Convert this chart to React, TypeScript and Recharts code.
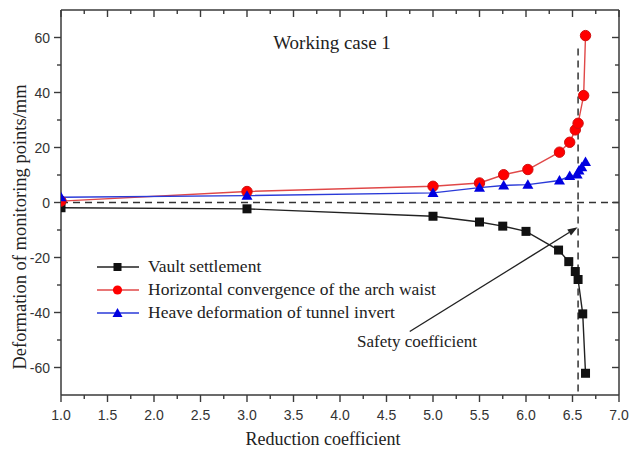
import React from "react";
import {
  LineChart,
  Line,
  XAxis,
  YAxis,
  ReferenceLine,
} from "recharts";

// reduction coefficient vs deformation (mm)
const vaultX = [1.0, 3.0, 5.0, 5.5, 5.75, 6.0, 6.35, 6.46, 6.53, 6.56, 6.61, 6.64];
const vaultY = [-1.9, -2.3, -5.0, -7.1, -8.6, -10.5, -17.3, -21.5, -25.1, -28.0, -40.5, -62.1];

const archX = [1.0, 3.0, 5.0, 5.5, 5.76, 6.02, 6.36, 6.47, 6.53, 6.56, 6.62, 6.64];
const archY = [0.5, 4.0, 5.9, 7.1, 10.1, 12.0, 18.3, 21.9, 26.4, 28.8, 38.9, 60.7];

const heaveX = [1.0, 3.0, 5.0, 5.5, 5.76, 6.02, 6.36, 6.47, 6.55, 6.57, 6.6, 6.64];
const heaveY = [1.9, 2.5, 3.5, 5.4, 6.2, 6.5, 8.0, 9.6, 10.2, 11.6, 12.8, 14.7];

const xTicks = [1, 1.25, 1.5, 1.75, 2, 2.25, 2.5, 2.75, 3, 3.25, 3.5, 3.75, 4, 4.25, 4.5, 4.75, 5, 5.25, 5.5, 5.75, 6, 6.25, 6.5, 6.75, 7];
const yTicks = [-60, -50, -40, -30, -20, -10, 0, 10, 20, 30, 40, 50, 60];

const safetyX = 6.56;
const arrowFrom = { x: 4.75, y: -46.9 };
const arrowTo = { x: 6.555, y: -9.0 };

const legendItems = [
  { name: "Vault settlement", color: "#111", line: "#222", shape: "square" },
  { name: "Horizontal convergence of the arch waist", color: "#f00", line: "#e04848", shape: "circle" },
  { name: "Heave deformation of tunnel invert", color: "#0000e0", line: "#2a3ad8", shape: "triangle" },
];

const toPoints = (xs: number[], ys: number[]) => xs.map((x, i) => ({ x, y: ys[i] }));

const vaultData = toPoints(vaultX, vaultY);
const archData = toPoints(archX, archY);
const heaveData = toPoints(heaveX, heaveY);

const AXIS = "#3a3a3a";
const serif = "'Liberation Serif', 'Times New Roman', serif";
const sans = "'Liberation Sans', Arial, sans-serif";

const isMajorX = (v: number) => Math.abs(v * 2 - Math.round(v * 2)) < 1e-6;
const isMajorY = (v: number) => v % 20 === 0;

const BottomTick = (props: any) => {
  const { x, y, payload } = props;
  const major = isMajorX(payload.value);
  return (
    <g>
      <line x1={x} x2={x} y1={y} y2={y + (major ? 7 : 4)} stroke={AXIS} strokeWidth={1.4} />
      {major && (
        <text x={x} y={y + 25} textAnchor="middle" fontSize={14} fontFamily={sans} fill="#333">
          {payload.value.toFixed(1)}
        </text>
      )}
    </g>
  );
};

const TopTick = (props: any) => {
  const { x, y, payload } = props;
  const major = isMajorX(payload.value);
  return <line x1={x} x2={x} y1={y} y2={y + (major ? 7 : 4)} stroke={AXIS} strokeWidth={1.4} />;
};

const LeftTick = (props: any) => {
  const { x, y, payload } = props;
  const major = isMajorY(payload.value);
  return (
    <g>
      <line x1={x} x2={x - (major ? 7 : 4)} y1={y} y2={y} stroke={AXIS} strokeWidth={1.4} />
      {major && (
        <text x={x - 11} y={y + 5} textAnchor="end" fontSize={14} fontFamily={sans} fill="#333">
          {payload.value}
        </text>
      )}
    </g>
  );
};

const RightTick = (props: any) => {
  const { x, y, payload } = props;
  const major = isMajorY(payload.value);
  return <line x1={x} x2={x - (major ? 7 : 4)} y1={y} y2={y} stroke={AXIS} strokeWidth={1.4} />;
};

const SquareDot = (props: any) => {
  const { cx, cy } = props;
  if (cx == null || cy == null) return null;
  return <rect x={cx - 4.5} y={cy - 4.5} width={9} height={9} fill="#111" />;
};

const CircleDot = (props: any) => {
  const { cx, cy } = props;
  if (cx == null || cy == null) return null;
  return <circle cx={cx} cy={cy} r={5.2} fill="#f00" stroke="#d01010" strokeWidth={1} />;
};

const TriangleDot = (props: any) => {
  const { cx, cy } = props;
  if (cx == null || cy == null) return null;
  return (
    <polygon
      points={`${cx},${cy - 5.5} ${cx - 5.5},${cy + 4} ${cx + 5.5},${cy + 4}`}
      fill="#0000e0"
    />
  );
};

const ArrowShape = (props: any) => {
  const { x1, y1, x2, y2 } = props;
  if (x1 == null) return null;
  const ang = Math.atan2(y2 - y1, x2 - x1);
  const len = 10;
  const w = 3.5;
  const bx = x2 - len * Math.cos(ang);
  const by = y2 - len * Math.sin(ang);
  const px = -Math.sin(ang) * w;
  const py = Math.cos(ang) * w;
  return (
    <g>
      <line x1={x1} y1={y1} x2={bx} y2={by} stroke="#222" strokeWidth={1.4} />
      <polygon points={`${x2},${y2} ${bx + px},${by + py} ${bx - px},${by - py}`} fill="#222" />
    </g>
  );
};

const LegendIcon = ({ item }: { item: (typeof legendItems)[number] }) => (
  <svg width={44} height={14} style={{ marginRight: 8 }}>
    <line x1={1} x2={43} y1={7} y2={7} stroke={item.line} strokeWidth={1.6} />
    {item.shape === "square" && <rect x={17.5} y={3} width={8} height={8} fill={item.color} />}
    {item.shape === "circle" && <circle cx={21.5} cy={7} r={4.6} fill={item.color} />}
    {item.shape === "triangle" && <polygon points="21.5,2 16.5,11 26.5,11" fill={item.color} />}
  </svg>
);

export default function App() {
  return (
    <div style={{ position: "absolute", left: 0, top: 0, width: 630, height: 452, background: "#fff" }}>
      <LineChart
        width={630}
        height={452}
        margin={{ top: 9, right: 10, bottom: 27, left: 16 }}
      >
        <XAxis
          xAxisId="bottom"
          type="number"
          dataKey="x"
          domain={[1, 7]}
          ticks={xTicks}
          interval={0}
          height={30}
          tickSize={0}
          tickMargin={0}
          tickLine={false}
          tick={<BottomTick />}
          axisLine={{ stroke: AXIS, strokeWidth: 1.5 }}
          allowDataOverflow
        />
        <XAxis
          xAxisId="top"
          orientation="top"
          type="number"
          dataKey="x"
          domain={[1, 7]}
          ticks={xTicks}
          interval={0}
          height={1}
          tickSize={0}
          tickMargin={0}
          tickLine={false}
          tick={<TopTick />}
          axisLine={{ stroke: AXIS, strokeWidth: 1.5 }}
          allowDataOverflow
        />
        <YAxis
          yAxisId="left"
          type="number"
          domain={[-70, 70]}
          ticks={yTicks}
          interval={0}
          width={45}
          tickSize={0}
          tickMargin={0}
          tickLine={false}
          tick={<LeftTick />}
          axisLine={{ stroke: AXIS, strokeWidth: 1.5 }}
          allowDataOverflow
        />
        <YAxis
          yAxisId="right"
          orientation="right"
          type="number"
          domain={[-70, 70]}
          ticks={yTicks}
          interval={0}
          width={1}
          tickSize={0}
          tickMargin={0}
          tickLine={false}
          tick={<RightTick />}
          axisLine={{ stroke: AXIS, strokeWidth: 1.5 }}
          allowDataOverflow
        />

        <ReferenceLine
          xAxisId="bottom"
          yAxisId="left"
          y={0}
          stroke="#333"
          strokeWidth={1.5}
          strokeDasharray="7 5"
        />
        <ReferenceLine
          xAxisId="bottom"
          yAxisId="left"
          segment={[
            { x: safetyX, y: 56 },
            { x: safetyX, y: -70 },
          ]}
          stroke="#333"
          strokeWidth={1.5}
          strokeDasharray="7 5"
        />
        <ReferenceLine
          xAxisId="bottom"
          yAxisId="left"
          segment={[arrowFrom, arrowTo]}
          shape={<ArrowShape />}
        />

        <Line
          xAxisId="bottom"
          yAxisId="left"
          data={vaultData}
          dataKey="y"
          stroke="#222"
          strokeWidth={1.4}
          dot={<SquareDot />}
          activeDot={false}
          isAnimationActive={false}
        />
        <Line
          xAxisId="bottom"
          yAxisId="left"
          data={archData}
          dataKey="y"
          stroke="#e04848"
          strokeWidth={1.4}
          dot={<CircleDot />}
          activeDot={false}
          isAnimationActive={false}
        />
        <Line
          xAxisId="bottom"
          yAxisId="left"
          data={heaveData}
          dataKey="y"
          stroke="#2a3ad8"
          strokeWidth={1.4}
          dot={<TriangleDot />}
          activeDot={false}
          isAnimationActive={false}
        />
      </LineChart>

      {/* texts */}
      <div
        style={{
          position: "absolute",
          left: 332,
          top: 43,
          transform: "translate(-50%, -50%)",
          fontFamily: serif,
          fontSize: 19,
          color: "#222",
          whiteSpace: "nowrap",
        }}
      >
        Working case 1
      </div>
      <div
        style={{
          position: "absolute",
          left: 417,
          top: 342,
          transform: "translate(-50%, -50%)",
          fontFamily: serif,
          fontSize: 17,
          color: "#222",
          whiteSpace: "nowrap",
        }}
      >
        Safety coefficient
      </div>
      <div
        style={{
          position: "absolute",
          left: 323,
          top: 439,
          transform: "translate(-50%, -50%)",
          fontFamily: serif,
          fontSize: 18,
          color: "#222",
          whiteSpace: "nowrap",
        }}
      >
        Reduction coefficient
      </div>
      <div
        style={{
          position: "absolute",
          left: 20,
          top: 227,
          transform: "translate(-50%, -50%) rotate(-90deg)",
          fontFamily: serif,
          fontSize: 18.5,
          color: "#222",
          whiteSpace: "nowrap",
        }}
      >
        Deformation of monitoring points/mm
      </div>

      {/* legend */}
      <div style={{ position: "absolute", left: 96, top: 255, fontFamily: serif, fontSize: 17.5, color: "#222" }}>
        {legendItems.map((item) => (
          <div key={item.name} style={{ display: "flex", alignItems: "center", height: 23, whiteSpace: "nowrap" }}>
            <LegendIcon item={item} />
            <span>{item.name}</span>
          </div>
        ))}
      </div>
    </div>
  );
}
